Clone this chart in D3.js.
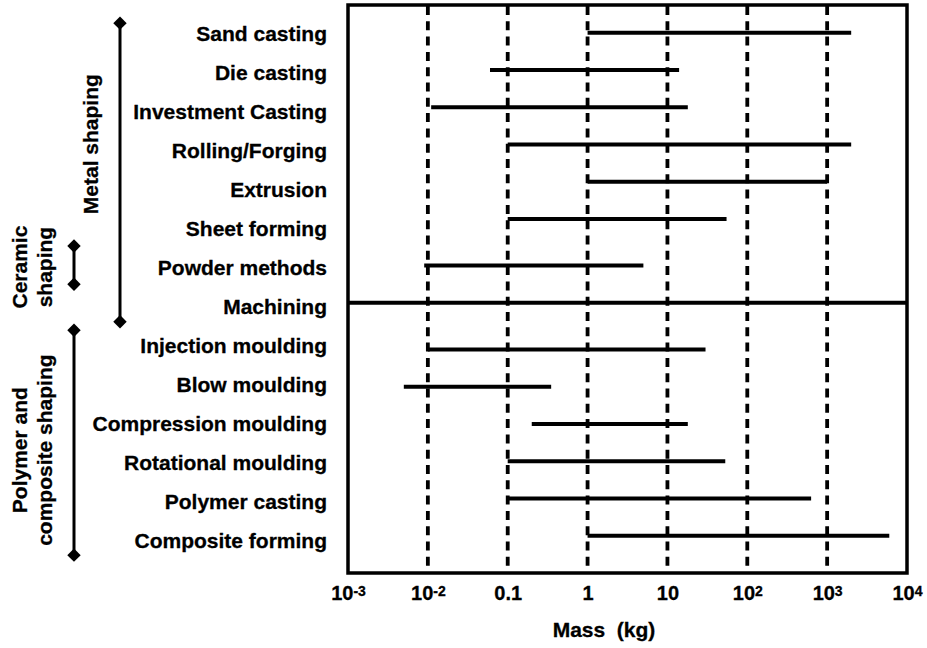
<!DOCTYPE html>
<html>
<head>
<meta charset="utf-8">
<script src="https://cdn.jsdelivr.net/npm/d3@7"></script>
<style>
  body { margin: 0; background: #fff; }
  text { font-family: "Liberation Sans", Arial, Helvetica, sans-serif; font-weight: bold; fill: #000; stroke: #000; stroke-width: 0.3px; }
</style>
</head>
<body>
<svg id="chart" width="927" height="648"></svg>
<script>
// Typical mass range (kg) of parts made by each shaping process
const processes = [
  "Sand casting", "Die casting", "Investment Casting", "Rolling/Forging",
  "Extrusion", "Sheet forming", "Powder methods", "Machining",
  "Injection moulding", "Blow moulding", "Compression moulding",
  "Rotational moulding", "Polymer casting", "Composite forming"
];
const massMin = [1, 0.06, 0.011, 0.1, 1, 0.1, 0.009, 0.001, 0.01, 0.005, 0.2, 0.1, 0.1, 1];
const massMax = [2000, 14, 18, 2000, 1000, 55, 5, 10000, 30, 0.35, 18, 53, 630, 6000];
// 0 = metal, 1 = powder / machining, 2 = polymer and composite
const processFamily = [0, 0, 0, 0, 0, 0, 1, 1, 2, 2, 2, 2, 2, 2];

const tickValues = [1e-3, 1e-2, 1e-1, 1, 10, 1e2, 1e3, 1e4];
const tickBase = ["10", "10", "0.1", "1", "10", "10", "10", "10"];
const tickExp = ["-3", "-2", "", "", "", "2", "3", "4"];

// Family brackets on the left
const groupNames = [["Metal shaping"], ["Ceramic", "shaping"], ["Polymer and", "composite shaping"]];
const groupFirst = [0, 6, 8];
const groupLast = [7, 6, 13];

// ---- layout ----
const svg = d3.select("#chart");
const plot = { left: 348, right: 907, top: 5, bottom: 573 };

const x = d3.scaleLog()
  .domain([1e-3, 1e4])
  .range([plot.left, plot.right]);

// label rows are evenly spaced
const yLabel = d3.scaleLinear().domain([0, processes.length - 1]).range([33.3, 540.7]);
// range lines leave a small gap between process families
const slot = i => i + 0.25 * processFamily[i];
const yLine = d3.scaleLinear().domain([0, slot(processes.length - 1)]).range([32.7, 535.7]);

// dashed decade gridlines
svg.append("g")
  .selectAll("line")
  .data(tickValues.slice(1, -1))
  .join("line")
  .attr("x1", d => x(d)).attr("x2", d => x(d))
  .attr("y1", plot.top + 1).attr("y2", plot.bottom)
  .attr("stroke", "#000")
  .attr("stroke-width", 3.8)
  .attr("stroke-dasharray", "9,6.3");

// mass range bars
svg.append("g")
  .selectAll("line")
  .data(processes)
  .join("line")
  .attr("x1", (d, i) => x(massMin[i]))
  .attr("x2", (d, i) => x(massMax[i]))
  .attr("y1", (d, i) => yLine(slot(i)))
  .attr("y2", (d, i) => yLine(slot(i)))
  .attr("stroke", "#000")
  .attr("stroke-width", 4);

// plot frame
svg.append("rect")
  .attr("x", plot.left).attr("y", plot.top)
  .attr("width", plot.right - plot.left)
  .attr("height", plot.bottom - plot.top)
  .attr("fill", "none")
  .attr("stroke", "#000")
  .attr("stroke-width", 3.5);

// process names
svg.append("g")
  .selectAll("text")
  .data(processes)
  .join("text")
  .attr("x", 327)
  .attr("y", (d, i) => yLabel(i))
  .attr("dy", "0.35em")
  .attr("text-anchor", "end")
  .attr("font-size", 21)
  .text(d => d);

// x axis with superscript decade labels
const axis = svg.append("g")
  .attr("transform", `translate(0,${plot.bottom})`)
  .call(d3.axisBottom(x).tickValues(tickValues).tickSize(0).tickFormat(""));
axis.select(".domain").remove();
axis.selectAll(".tick text")
  .attr("y", 27)
  .attr("dy", null)
  .attr("font-size", 20)
  .attr("font-family", null)
  .each(function (d, i) {
    const t = d3.select(this).text(tickBase[i]);
    if (tickExp[i]) {
      t.append("tspan")
        .attr("dy", "-0.3em")
        .attr("font-size", 14)
        .text(tickExp[i]);
    }
  });

svg.append("text")
  .attr("x", 604)
  .attr("y", 637)
  .attr("text-anchor", "middle")
  .attr("font-size", 21)
  .style("white-space", "pre")
  .text("Mass  (kg)");

// family brackets
const bracketX = [120, 74, 74];
const bracketTop = [-0.26, -0.55, -0.39];
const bracketBottom = [0.39, 0.43, 0.37];
const titleRow = [2.84, 5.99, 10.68];
const diamond = d3.symbol(d3.symbolSquare, 90);

groupNames.forEach((lines, g) => {
  const bx = bracketX[g];
  const y0 = yLabel(groupFirst[g] + bracketTop[g]);
  const y1 = yLabel(groupLast[g] + bracketBottom[g]);
  const grp = svg.append("g");
  grp.append("line")
    .attr("x1", bx).attr("x2", bx)
    .attr("y1", y0).attr("y2", y1)
    .attr("stroke", "#000")
    .attr("stroke-width", 3);
  grp.selectAll("path")
    .data([y0, y1])
    .join("path")
    .attr("d", diamond)
    .attr("transform", d => `translate(${bx},${d}) rotate(45)`)
    .attr("fill", "#000");
  const cy = yLabel(titleRow[g]);
  grp.selectAll("text")
    .data(lines)
    .join("text")
    .attr("transform", (d, k) => `translate(${bx - 22 - 25 * (lines.length - 1 - k)},${cy}) rotate(-90)`)
    .attr("text-anchor", "middle")
    .attr("font-size", 21)
    .text(d => d);
});
</script>
</body>
</html>
